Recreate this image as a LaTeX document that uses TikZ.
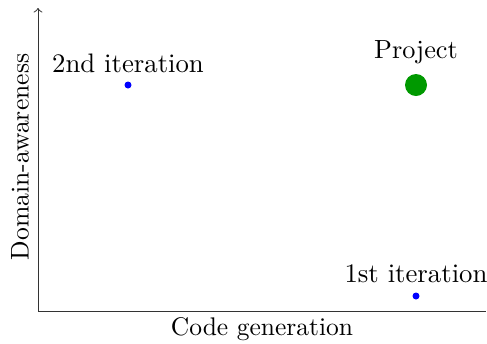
\documentclass[tikz,border=0pt]{standalone}
\begin{document}
\begin{tikzpicture}[x=0.4pt,y=0.4pt,
  axis/.style={line width=0.4pt,black!80},
  pt/.style={circle,fill=blue,inner sep=0pt,minimum size=2.8pt},
  big/.style={circle,fill=green!60!black,inner sep=0pt,minimum size=8.8pt},
  lbl/.style={inner sep=0pt}]
  \useasboundingbox (0,0) rectangle (487,343);
  % axes
  \coordinate (o) at (38,32);
  \coordinate (ytop) at (38,335);
  \coordinate (xend) at (486,32);
  \draw[axis,->] (o) -- (ytop);
  \draw[axis] (o) -- (xend);
  \node[lbl,rotate=90] (ylab) at (20,186) {\scalebox{1.025}{Domain-awareness}};
  \node[lbl] (xlab) at (262,14) {\scalebox{1.02}{Code generation}};
  % points
  \node[pt] (it2) at (128,258) {};
  \node[pt] (it1) at (416,47) {};
  \node[big] (proj) at (416,258) {};
  \node[lbl] (it2l) at (128,280) {\scalebox{1.07}{2nd iteration}};
  \node[lbl] (it1l) at (416,69) {\scalebox{1.07}{1st iteration}};
  \node[lbl] (projl) at (416,291) {\scalebox{1.05}{Project}};
\end{tikzpicture}
\end{document}
